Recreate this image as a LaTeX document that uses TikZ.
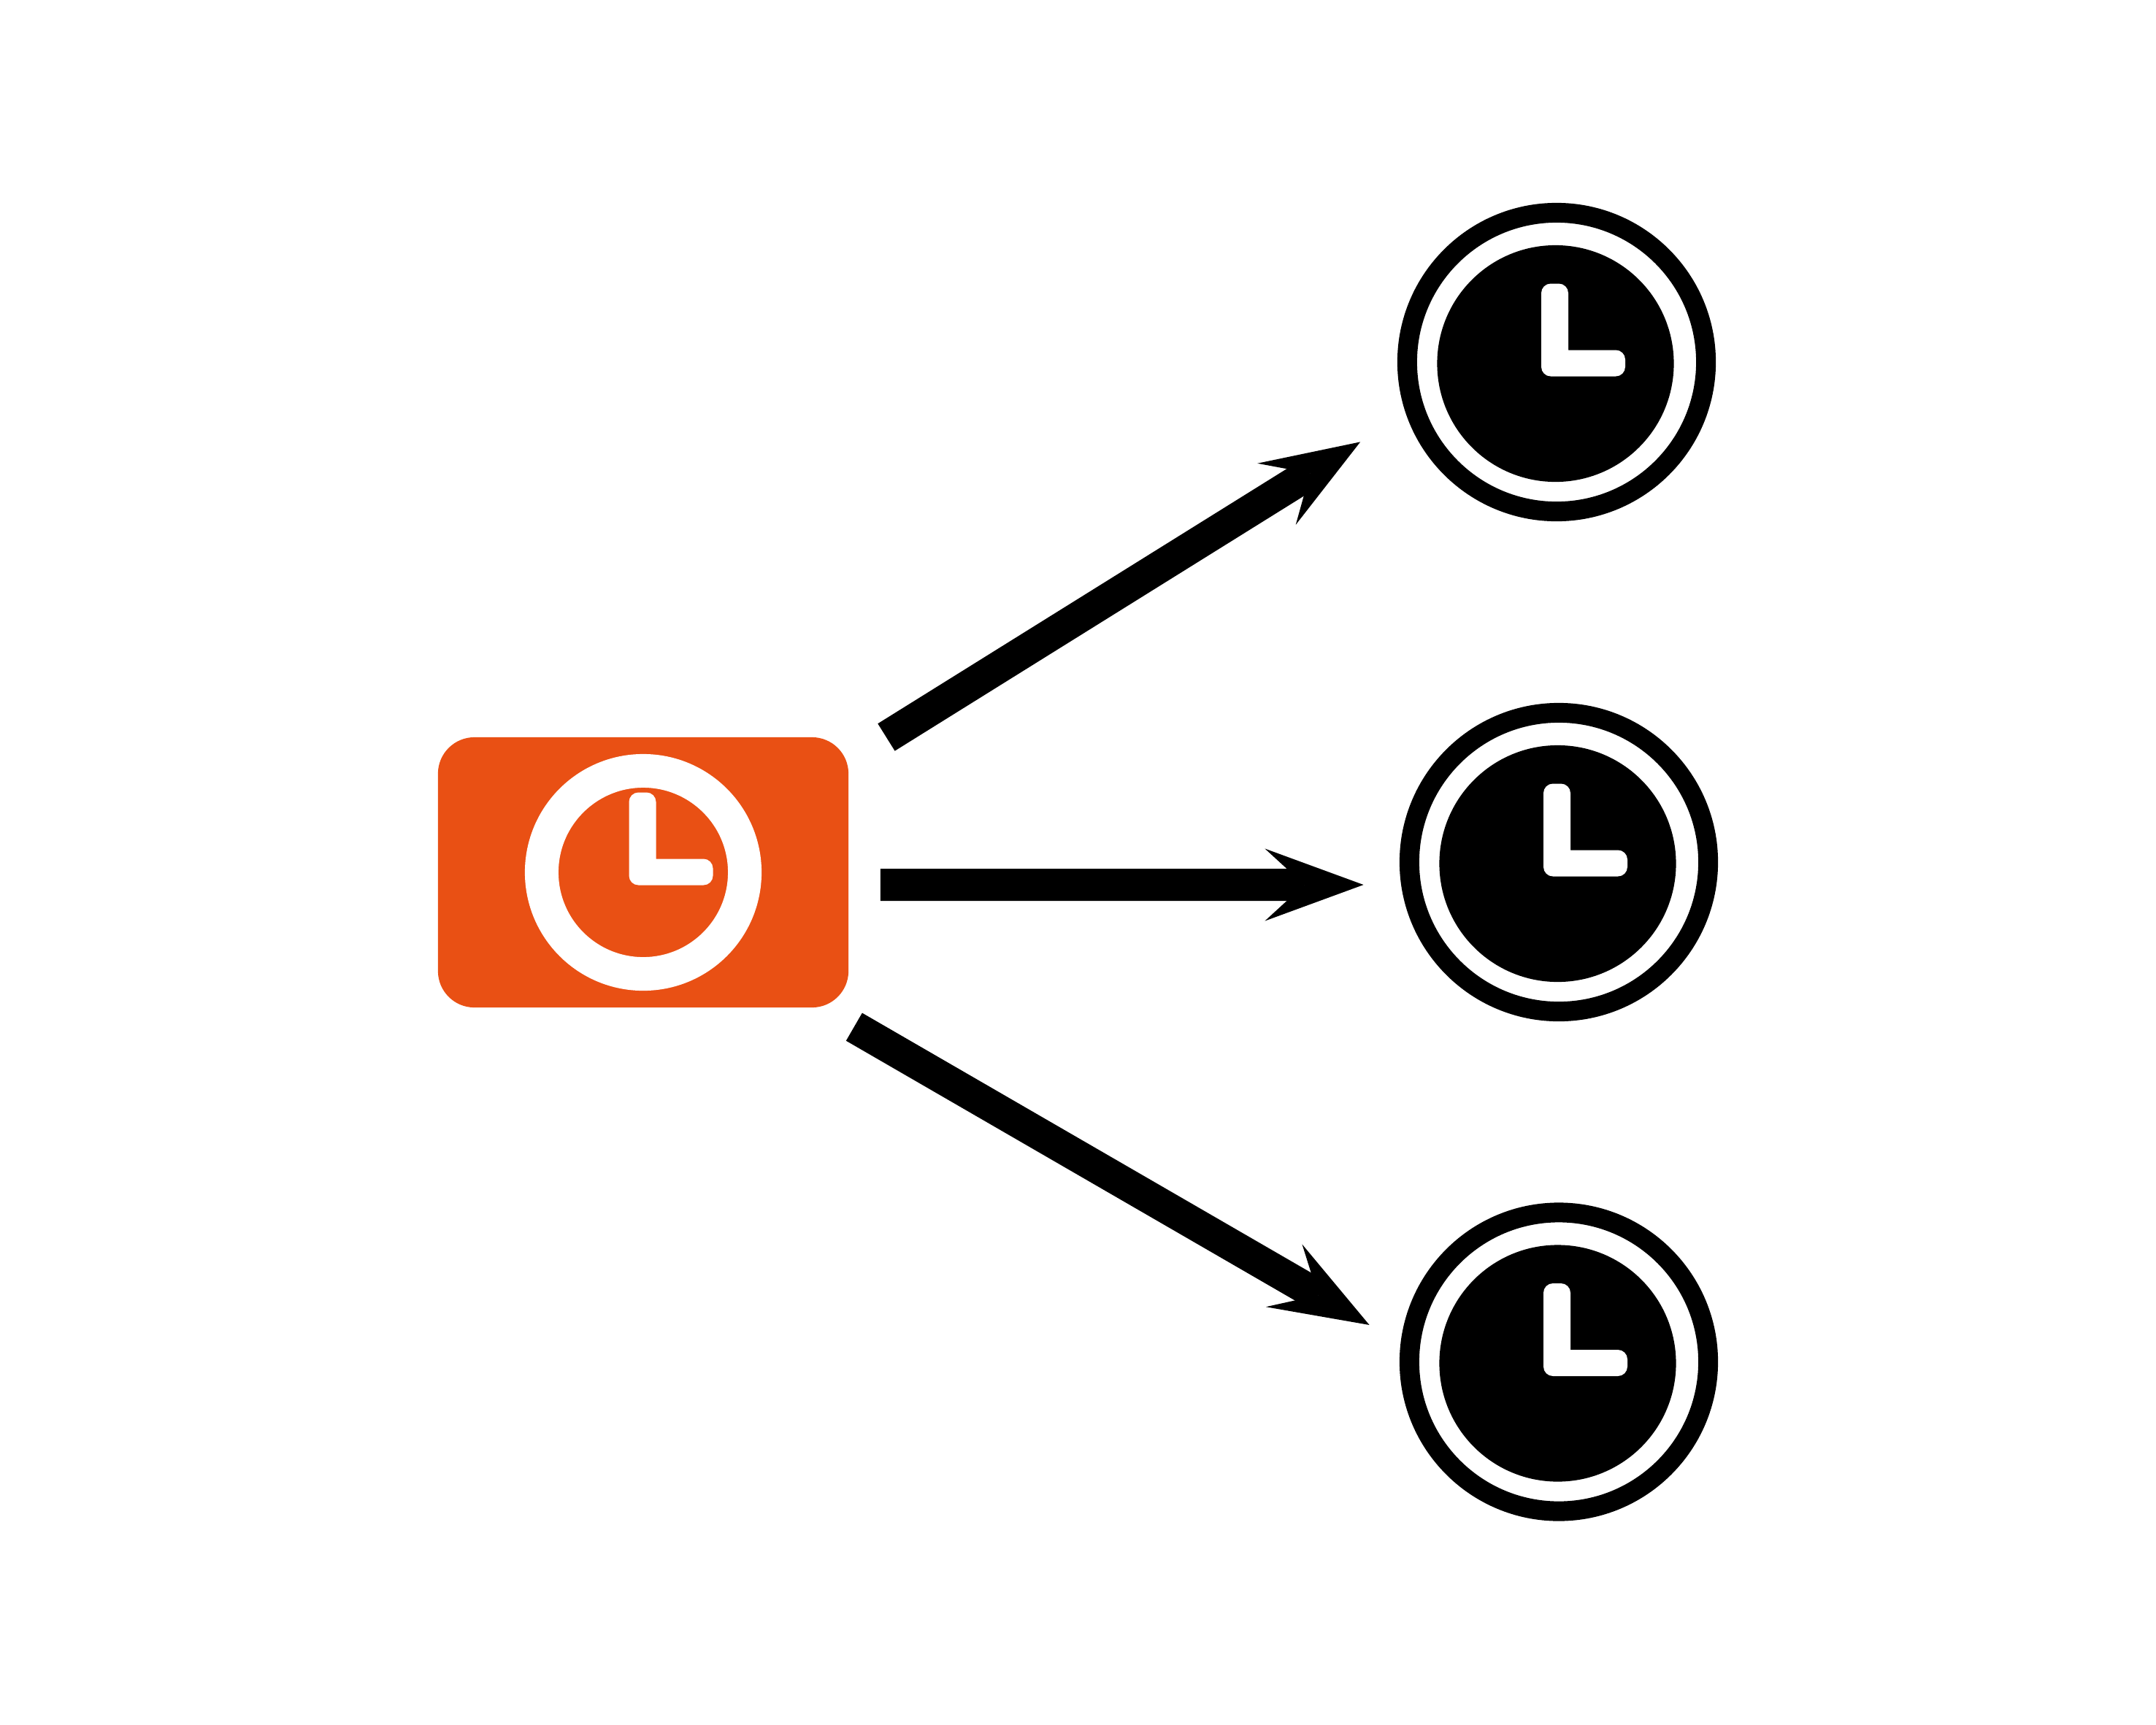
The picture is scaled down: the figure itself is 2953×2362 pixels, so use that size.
\documentclass[tikz,border=0pt]{standalone}
\usepackage{tikz}
\usetikzlibrary{arrows.meta}

\definecolor{clockorange}{HTML}{E95014}
\tikzset{
  srcbox/.style={rectangle, fill=clockorange, rounded corners=0.5cm, minimum width=5.62cm, minimum height=3.7cm, inner sep=0pt, outer sep=0pt},
  srcring/.style={circle, draw=white, fill=clockorange, line width=0.46cm, minimum size=2.78cm, inner sep=0pt},
  clockring/.style={circle, draw=black, fill=white, line width=0.27cm, minimum size=4.09cm, inner sep=0pt},
  clockdisc/.style={circle, fill=black, minimum size=3.24cm, inner sep=0pt, outer sep=0pt},
  flow/.style={line width=0.44cm, -{Stealth[length=1.35cm, width=0.99cm, inset=0.54cm, line width=0pt]}}
}

\begin{document}
\begin{tikzpicture}[x=0.01cm, y=-0.01cm]
  \useasboundingbox (0,0) rectangle (2953,2362);

  % Source box with its clock
  \node[srcbox] (src) at (881,1195) {};
  \node[srcring] (srcface) at (881,1195) {};

  % The three clocks on the right
  \foreach \x/\y/\name in {2132/496/clockA, 2135/1181/clockB, 2135/1865.5/clockC}
  {
    \node[clockring] (\name) at (\x,\y) {};
    \node[clockdisc] (\name disc) at (\x-1.5,\y+2) {};
  }

  % Clock hands
  \foreach \x/\y in {881/1195, 2130.5/498, 2133.5/1183, 2133.5/1867.5}
  {
    \fill[white, shift={(\x,\y)}, rounded corners=0.13cm]
      (-19.5,-50) -- (-19.5,-109.5) -- (17.5,-109.5) [sharp corners] -- (17.5,-18.5)
      [rounded corners=0.13cm] -- (95.5,-18.5) -- (95.5,17.5) -- (-19.5,17.5) -- cycle;
  }

  % Arrows from the box to the clocks
  \draw[flow, shorten <=0.61cm, shorten >=0.597cm] ([yshift=1.527cm]src.east) -- ([yshift=-0.777cm]clockA.west);
  \draw[flow, shorten <=0.437cm, shorten >=0.493cm] ([yshift=-0.17cm]src.east) -- ([yshift=-0.31cm]clockB.west);
  \draw[flow, shorten <=0.529cm, shorten >=0.477cm] ([xshift=2.429cm]src.south) -- ([yshift=0.266cm]clockC.west);
\end{tikzpicture}
\end{document}
